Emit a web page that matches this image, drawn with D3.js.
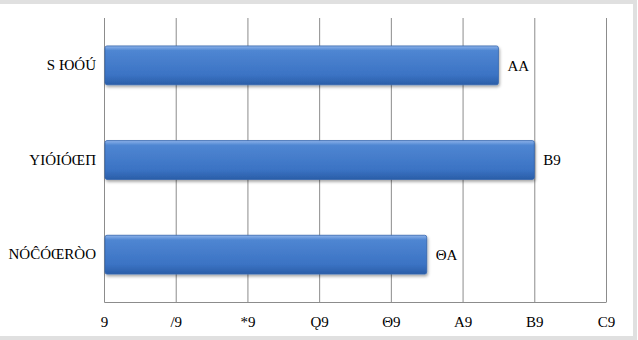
<!doctype html>
<html lang="en">
<head>
  <meta charset="utf-8">
  <title>Bar chart</title>
  <style>
    body { margin: 0; background: #fff; }
    text { font-family: "Liberation Serif", serif; fill: #000; }
  </style>
</head>
<body>
<svg id="chart" width="638" height="340"></svg>

<script src="https://d3js.org/d3.v7.min.js"></script>
<script>
// categories, top to bottom (text as it appears in the picture)
const categories = ['S ЮÓÚ', 'YIÓIÓŒΠ', 'NÓĈÓŒRÒO'];
const values = [55, 60, 45];
const valueLabels = ['AA', 'B9', 'ΘA'];
const tickValues = [0, 10, 20, 30, 40, 50, 60, 70];
const tickLabels = ['9', '/9', '*9', 'Ǫ9', 'Θ9', 'A9', 'B9', 'C9'];

const svg = d3.select('#chart');
const margin = { top: 18, right: 32, bottom: 38, left: 104 };
const width = 638 - margin.left - margin.right;
const height = 340 - margin.top - margin.bottom;

// frame
svg.append('rect')
  .attr('x', -3).attr('y', 2)
  .attr('width', 638).attr('height', 336)
  .attr('fill', '#fff')
  .attr('stroke', '#e0e0e0')
  .attr('stroke-width', 4);

const defs = svg.append('defs');
const grad = defs.append('linearGradient')
  .attr('id', 'barGrad')
  .attr('x1', 0).attr('y1', 0).attr('x2', 0).attr('y2', 1);
grad.append('stop').attr('offset', '0%').attr('stop-color', '#8db3ea');
grad.append('stop').attr('offset', '12%').attr('stop-color', '#4f86d2');
grad.append('stop').attr('offset', '75%').attr('stop-color', '#3b73c4');
grad.append('stop').attr('offset', '100%').attr('stop-color', '#2a5ea8');

const shadow = defs.append('filter').attr('id', 'shadow')
  .attr('x', '-5%').attr('y', '-20%').attr('width', '110%').attr('height', '150%');
shadow.append('feDropShadow')
  .attr('dx', 1).attr('dy', 2).attr('stdDeviation', 1.5)
  .attr('flood-color', '#000').attr('flood-opacity', 0.35);

const g = svg.append('g')
  .attr('transform', `translate(${margin.left},${margin.top})`);

const x = d3.scaleLinear().domain([0, 70]).range([0, width]);
const y = d3.scaleBand().domain(categories).range([0, height]).paddingInner(0.59).paddingOuter(0.295);

// gridlines
g.selectAll('.grid')
  .data(tickValues)
  .join('line')
  .attr('class', 'grid')
  .attr('x1', d => x(d) + 0.5).attr('x2', d => x(d) + 0.5)
  .attr('y1', 0).attr('y2', height)
  .attr('stroke', '#8c8c8c')
  .attr('stroke-width', 1);

// bottom axis
const xAxis = g.append('g')
  .attr('transform', `translate(0,${height})`)
  .call(d3.axisBottom(x).tickValues(tickValues).tickSize(0).tickPadding(14)
    .tickFormat((d, i) => tickLabels[i]));
xAxis.select('.domain').attr('stroke', '#8c8c8c');
xAxis.selectAll('text').style('font-size', '15px').style('font-family', '"Liberation Serif", serif');

// left axis
const yAxis = g.append('g')
  .call(d3.axisLeft(y).tickSize(0).tickPadding(8));
yAxis.select('.domain').attr('stroke', '#8c8c8c');
yAxis.selectAll('text').style('font-size', '15px').style('font-family', '"Liberation Serif", serif');

// bars
g.selectAll('.bar')
  .data(values)
  .join('rect')
  .attr('class', 'bar')
  .attr('x', 1)
  .attr('y', (d, i) => y(categories[i]))
  .attr('width', d => x(d) - 1)
  .attr('height', y.bandwidth())
  .attr('rx', 2)
  .attr('fill', 'url(#barGrad)')
  .attr('stroke', '#3465ad')
  .attr('stroke-width', 0.8)
  .attr('filter', 'url(#shadow)');

// value labels
g.selectAll('.val')
  .data(values)
  .join('text')
  .attr('class', 'val')
  .attr('x', d => x(d) + 9)
  .attr('y', (d, i) => y(categories[i]) + y.bandwidth() / 2)
  .attr('dy', '0.35em')
  .style('font-size', '15px')
  .text((d, i) => valueLabels[i]);
</script>
</body>
</html>
